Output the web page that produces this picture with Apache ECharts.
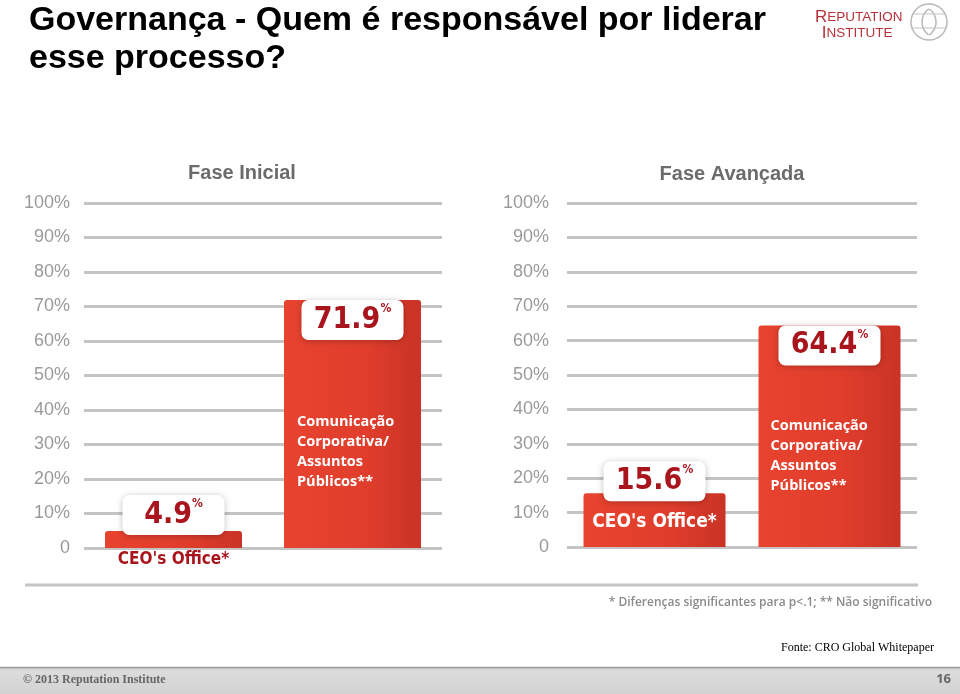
<!DOCTYPE html>
<html><head><meta charset="utf-8">
<script src="https://cdn.jsdelivr.net/npm/echarts@6/dist/echarts.min.js"></script>
<style>html,body{margin:0;padding:0;background:#fff}#c{width:960px;height:694px}</style>
</head><body><div id="c"></div>
<script>
const categories = ["CEO's Office*", "Comunicação\nCorporativa/\nAssuntos\nPúblicos**"];
const faseInicial = [4.9, 71.9];
const faseAvancada = [15.6, 64.4];
const panelTitles = ['Fase Inicial', 'Fase Avançada'];
const yTickLabels = ['0', '10%', '20%', '30%', '40%', '50%', '60%', '70%', '80%', '90%', '100%'];

const chart = echarts.init(document.getElementById('c'));
const numFont = "'DejaVu Sans Condensed','Liberation Sans Narrow','Arial Narrow',sans-serif";
const barGrad = new echarts.graphic.LinearGradient(0, 0, 1, 0, [
  {offset: 0, color: '#e8432f'}, {offset: 0.6, color: '#e03d2c'}, {offset: 1, color: '#c93325'}
]);
function valueLabel(pos, dist) {
  return {
    show: true, position: pos, distance: dist,
    formatter: p => '{v|' + p.value + '}{p|%}',
    backgroundColor: '#fff', borderRadius: 7, padding: [3, 12, 3, 12], width: 78, align: 'center',
    shadowBlur: 6, shadowColor: 'rgba(0,0,0,0.25)', shadowOffsetY: 1,
    rich: {
      v: {fontFamily: numFont, fontWeight: 'bold', fontSize: 30, color: '#a9151d', lineHeight: 34},
      p: {fontFamily: numFont, fontWeight: 'bold', fontSize: 12, color: '#a9151d', verticalAlign: 'top', lineHeight: 28}
    }
  };
}
const nameWhite = {color: '#fff', fontFamily: "'Open Sans','Noto Sans',sans-serif", fontWeight: 'bold', fontSize: 14.5, lineHeight: 20, align: 'left'};

function yAxis(i, margin) {
  return {
    type: 'value', gridIndex: i, min: 0, max: 100, interval: 10,
    axisLine: {show: false}, axisTick: {show: false},
    axisLabel: {formatter: (v) => yTickLabels[Math.round(v / 10)], color: '#9a9a9a', fontSize: 18, margin: margin, fontFamily: "'Liberation Sans',Arial,sans-serif"},
    splitLine: {lineStyle: {color: '#c4c4c4', width: 3}}
  };
}
function xAxis(i) {
  return {type: 'category', gridIndex: i, data: categories, axisLine: {show: false}, axisTick: {show: false}, axisLabel: {show: false}};
}

const option = {
  animation: false,
  grid: [
    {left: 84, right: 518, top: 203, bottom: 146},
    {left: 567, right: 43, top: 203, bottom: 147}
  ],
  xAxis: [xAxis(0), xAxis(1)],
  yAxis: [yAxis(0, 14), yAxis(1, 18)],
  title: [
    {text: panelTitles[0], left: 237, top: 158, textAlign: 'center', textStyle: {color: '#6b6b6b', fontSize: 20, fontWeight: 'bold', fontFamily: "'Liberation Sans',Arial,sans-serif"}},
    {text: panelTitles[1], left: 727, top: 159, textAlign: 'center', textStyle: {color: '#6b6b6b', fontSize: 20, fontWeight: 'bold', fontFamily: "'Liberation Sans',Arial,sans-serif"}}
  ],
  series: [
    {
      type: 'bar', xAxisIndex: 0, yAxisIndex: 0, barWidth: 137, z: 2,
      itemStyle: {color: barGrad, borderRadius: [3, 3, 0, 0]},
      data: [
        {value: faseInicial[0], label: valueLabel('top', -4)},
        {value: faseInicial[1], label: valueLabel('insideTop', 0)}
      ]
    },
    {
      type: 'bar', xAxisIndex: 0, yAxisIndex: 0, barWidth: 137, barGap: '-100%', z: 3, silent: true,
      itemStyle: {color: 'transparent'},
      data: [
        {value: faseInicial[0], label: {show: true, position: 'bottom', distance: 3, formatter: categories[0], color: '#a9151d', fontFamily: numFont, fontWeight: 'bold', fontSize: 17}},
        {value: faseInicial[1], label: Object.assign({show: true, position: [13, 112], formatter: categories[1]}, nameWhite)}
      ]
    },
    {
      type: 'bar', xAxisIndex: 1, yAxisIndex: 1, barWidth: 142, z: 2,
      itemStyle: {color: barGrad, borderRadius: [3, 3, 0, 0]},
      data: [
        {value: faseAvancada[0], label: valueLabel('top', -8)},
        {value: faseAvancada[1], label: valueLabel('insideTop', 0)}
      ]
    },
    {
      type: 'bar', xAxisIndex: 1, yAxisIndex: 1, barWidth: 142, barGap: '-100%', z: 3, silent: true,
      itemStyle: {color: 'transparent'},
      data: [
        {value: faseAvancada[0], label: {show: true, position: 'inside', offset: [0, 2], formatter: categories[0], color: '#fff', fontFamily: numFont, fontWeight: 'bold', fontSize: 19}},
        {value: faseAvancada[1], label: Object.assign({show: true, position: [12, 90], formatter: categories[1]}, nameWhite)}
      ]
    }
  ],
  graphic: [
    {type: 'text', left: 29, top: 2, style: {text: 'Governança - Quem é responsável por liderar\nesse processo?', fill: '#000', font: "bold 34px 'Liberation Sans',Arial,sans-serif", lineHeight: 38}},
    {type: 'text', left: 815, top: 9, style: {text: '{a|R}{b|EPUTATION}\n  {a|I}{b|NSTITUTE}', rich: {a: {fontSize: 17, fill: '#b7323a', fontFamily: "'Liberation Sans',Arial,sans-serif", lineHeight: 16}, b: {fontSize: 13.5, fill: '#b7323a', fontFamily: "'Liberation Sans',Arial,sans-serif", lineHeight: 16}}}},
    {type: 'circle', shape: {cx: 929, cy: 22, r: 18}, style: {fill: 'none', stroke: '#b8b8b8', lineWidth: 1.5}},
    {type: 'arc', shape: {cx: 938, cy: 22, r: 16, startAngle: 2.2, endAngle: 4.1}, style: {fill: 'none', stroke: '#b8b8b8', lineWidth: 1.5}},
    {type: 'arc', shape: {cx: 920, cy: 22, r: 16, startAngle: -0.95, endAngle: 0.95}, style: {fill: 'none', stroke: '#b8b8b8', lineWidth: 1.5}},
    {type: 'line', shape: {x1: 912, y1: 14, x2: 946, y2: 14}, style: {stroke: '#c4c4c4', lineWidth: 1.2}},
    {type: 'line', shape: {x1: 911, y1: 28, x2: 947, y2: 28}, style: {stroke: '#c4c4c4', lineWidth: 1.2}},
    {type: 'line', shape: {x1: 25, y1: 585, x2: 918, y2: 585}, style: {stroke: '#c4c4c4', lineWidth: 3}},
    {type: 'text', right: 28, top: 597, style: {text: '* Diferenças significantes para p<.1; ** Não significativo', fill: '#8a8a8a', font: "600 12px 'Open Sans','Noto Sans',sans-serif"}},
    {type: 'text', right: 26, top: 642, style: {text: 'Fonte: CRO Global Whitepaper', fill: '#000', font: "12px 'Liberation Serif','DejaVu Serif',serif"}},
    {type: 'rect', shape: {x: 0, y: 667, width: 960, height: 27}, style: {fill: new echarts.graphic.LinearGradient(0, 0, 0, 1, [{offset: 0, color: '#c8c8c8'}, {offset: 0.15, color: '#dcdcdc'}, {offset: 1, color: '#d2d2d2'}])}},
    {type: 'line', shape: {x1: 0, y1: 667.5, x2: 960, y2: 667.5}, style: {stroke: '#9a9a9a', lineWidth: 1.5}},
    {type: 'text', left: 23, top: 674, style: {text: '© 2013 Reputation Institute', fill: '#666', font: "bold 12px 'Liberation Serif','DejaVu Serif',serif"}},
    {type: 'text', right: 9, top: 673, style: {text: '16', fill: '#666', font: "bold 13px 'Open Sans','Noto Sans',sans-serif"}}
  ]
};
chart.setOption(option);
</script></body></html>
